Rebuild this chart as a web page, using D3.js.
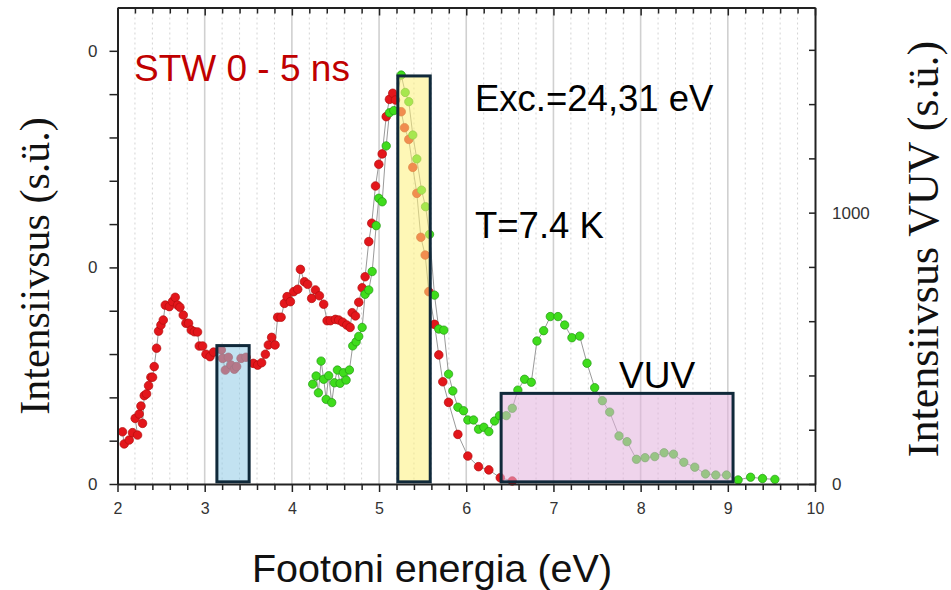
<!DOCTYPE html>
<html><head><meta charset="utf-8">
<script src="https://cdn.jsdelivr.net/npm/d3@7"></script>
<style>body{margin:0;background:#fff}</style>
</head><body><svg id="c" width="951" height="590"></svg>
<script>
// ---- data ----
const redEnergy = [2.057,2.077,2.134,2.172,2.230,2.203,2.249,2.269,2.287,2.307,2.333,2.356,2.383,2.402,2.421,2.448,2.471,2.498,2.525,2.548,2.594,2.631,2.662,2.689,2.716,2.754,2.785,2.815,2.846,2.881,2.918,2.938,2.976,3.015,3.061,3.102,3.191,3.206,3.237,3.271,3.302,3.340,3.366,3.417,3.474,3.558,3.607,3.653,3.696,3.730,3.768,3.807,3.837,3.876,3.914,3.945,3.983,4.021,4.067,4.098,4.144,4.181,4.227,4.270,4.316,4.365,4.404,4.442,4.499,4.537,4.583,4.629,4.668,4.691,4.729,4.767,4.806,4.840,4.882,4.916,4.959,4.997,5.036,5.082,5.119,5.157,5.188,5.254,5.292,5.341,5.387,5.433,5.479,5.529,5.571,5.636,5.685,5.731,5.797,5.904,6.018,6.141,6.259,6.390,6.528];
const redIntensity = [0.241,0.185,0.203,0.237,0.226,0.303,0.323,0.360,0.280,0.408,0.416,0.454,0.493,0.493,0.542,0.627,0.706,0.734,0.757,0.826,0.819,0.842,0.862,0.826,0.816,0.780,0.742,0.742,0.711,0.703,0.702,0.637,0.637,0.599,0.588,0.609,0.619,0.580,0.526,0.585,0.549,0.530,0.542,0.580,0.585,0.557,0.549,0.560,0.599,0.642,0.677,0.642,0.770,0.770,0.834,0.865,0.842,0.888,0.899,0.991,0.934,0.922,0.857,0.896,0.869,0.830,0.754,0.754,0.760,0.757,0.747,0.734,0.723,0.791,0.776,0.839,0.906,0.957,1.119,1.204,1.376,1.476,1.524,1.696,1.776,1.804,1.773,1.719,1.645,1.591,1.462,1.342,1.139,1.057,0.888,0.737,0.596,0.472,0.377,0.229,0.129,0.080,0.065,0.029,0.014];
const vuvEnergy = [4.239,4.278,4.304,4.335,4.365,4.393,4.422,4.457,4.488,4.522,4.553,4.591,4.622,4.660,4.698,4.737,4.767,4.806,4.840,4.882,4.921,4.967,4.997,5.036,5.082,5.119,5.169,5.254,5.300,5.341,5.387,5.433,5.487,5.533,5.579,5.636,5.685,5.743,5.797,5.846,5.904,5.969,6.018,6.084,6.141,6.202,6.259,6.325,6.382,6.459,6.528,6.592,6.669,6.746,6.811,6.888,6.964,7.052,7.129,7.212,7.301,7.385,7.473,7.561,7.645,7.752,7.844,7.952,8.051,8.162,8.269,8.377,8.495,8.621,8.744,8.862,8.985,9.118,9.261,9.398,9.540];
const vuvIntensity = [368,398,336,453,386,312,399,300,373,420,371,410,383,420,509,524,544,577,699,715,783,952,1053,1040,1246,1368,1376,1507,1443,1409,1286,1198,1083,1022,920,696,571,567,405,343,283,270,236,236,202,209,193,232,252,252,279,346,386,375,527,565,617,617,586,539,545,445,355,307,265,177,156,91,97,101,115,110,80,62,37,33,33,15,25,20,17];
const xTickValues = [2,3,4,5,6,7,8,9,10];
const leftTickValues = [0,1,2];
const leftTickLabels = ["0","0","0"];
const rightTickValues = [0,1000];
const rightTickLabels = ["0","1000"];
const boxNames = ["blue","yellow","pink"];
const boxE0 = [3.14,5.215,6.40];
const boxE1 = [3.51,5.587,9.06];
const boxTopLeft = [0.639,1.884,null];
const boxTopRight = [null,null,334];
const boxColors = ["#8fcbe6","#fdf07a","#e2b0dd"];

// ---- chart ----
const svg = d3.select("#c");
const L=117.5, R=815, T=7.5, B=484;
const x = d3.scaleLinear([2,10],[L,R]);
const yL = d3.scaleLinear([0,2.2],[B,T]);
const yR = d3.scaleLinear([0,1756],[B,T]);

// grid
const minorX = d3.range(2,10.001,0.2).map(v=>+v.toFixed(1)).filter(v=>!xTickValues.includes(v));
svg.append("g").selectAll("line").data(minorX).join("line")
  .attr("x1",d=>x(d)).attr("x2",d=>x(d)).attr("y1",T).attr("y2",B)
  .attr("stroke","#d4d4d4").attr("stroke-width",1).attr("stroke-dasharray","2,3");
svg.append("g").selectAll("line").data(xTickValues.slice(1,-1)).join("line")
  .attr("x1",d=>x(d)).attr("x2",d=>x(d)).attr("y1",T).attr("y2",B)
  .attr("stroke","#d0d0d0").attr("stroke-width",1.6);

const red = redEnergy.map((e,i)=>[e,redIntensity[i]]);
const vuv = vuvEnergy.map((e,i)=>[e,vuvIntensity[i]]);

svg.append("path").datum(red)
  .attr("d",d3.line().x(d=>x(d[0])).y(d=>yL(d[1])))
  .attr("fill","none").attr("stroke","#9a9a9a").attr("stroke-width",1);
svg.append("path").datum(vuv)
  .attr("d",d3.line().x(d=>x(d[0])).y(d=>yR(d[1])))
  .attr("fill","none").attr("stroke","#9a9a9a").attr("stroke-width",1);

svg.append("g").selectAll("circle").data(red).join("circle")
  .attr("cx",d=>x(d[0])).attr("cy",d=>yL(d[1])).attr("r",4.3)
  .attr("fill","#e3161b").attr("stroke","#b30f0f").attr("stroke-width",0.7);
svg.append("g").selectAll("circle").data(vuv).join("circle")
  .attr("cx",d=>x(d[0])).attr("cy",d=>yR(d[1])).attr("r",4.2)
  .attr("fill","#3fdc1c").attr("stroke","#239a12").attr("stroke-width",0.7);

// boxes
boxNames.forEach((n,i)=>{
  const yTop = boxTopLeft[i]!=null ? yL(boxTopLeft[i]) : yR(boxTopRight[i]);
  const yBot = yL(0.01);
  svg.append("rect")
    .attr("x",x(boxE0[i])).attr("y",yTop)
    .attr("width",x(boxE1[i])-x(boxE0[i])).attr("height",yBot-yTop)
    .attr("fill",boxColors[i]).attr("fill-opacity",0.55)
    .attr("stroke","#10293a").attr("stroke-width",3);
});

// axes
const axisColor="#222";
function styleAxis(g){ g.select(".domain").attr("stroke",axisColor).attr("stroke-width",2);
  g.selectAll(".tick line").attr("stroke",axisColor).attr("stroke-width",1.5);
  g.selectAll("text").attr("fill","#333").attr("font-family","Liberation Sans, Arial, sans-serif").attr("font-size",16);}

const xb = svg.append("g").attr("transform",`translate(0,${B})`)
  .call(d3.axisBottom(x).tickValues(xTickValues).tickFormat(d3.format("d")).tickSize(8).tickPadding(11).tickSizeOuter(0));
styleAxis(xb);
const xbm = svg.append("g").attr("transform",`translate(0,${B})`)
  .call(d3.axisBottom(x).tickValues(minorX).tickFormat("").tickSize(6).tickSizeOuter(0));
styleAxis(xbm); xbm.select(".domain").remove();

const xt = svg.append("g").attr("transform",`translate(0,${T})`)
  .call(d3.axisTop(x).tickValues(xTickValues).tickFormat("").tickSize(-8).tickSizeOuter(0));
styleAxis(xt);
const xtm = svg.append("g").attr("transform",`translate(0,${T})`)
  .call(d3.axisTop(x).tickValues(minorX).tickFormat("").tickSize(-6).tickSizeOuter(0));
styleAxis(xtm); xtm.select(".domain").remove();

const yl = svg.append("g").attr("transform",`translate(${L},0)`)
  .call(d3.axisLeft(yL).tickValues(leftTickValues).tickFormat((d,i)=>leftTickLabels[i]).tickSize(8).tickPadding(12).tickSizeOuter(0));
styleAxis(yl); yl.selectAll("text").attr("font-size",17);
const ylm = svg.append("g").attr("transform",`translate(${L},0)`)
  .call(d3.axisLeft(yL).tickValues(d3.range(0.2,2.2,0.2).filter(v=>Math.abs(v-1)>0.01&&Math.abs(v-2)>0.01)).tickFormat("").tickSize(8).tickSizeOuter(0));
styleAxis(ylm); ylm.select(".domain").remove();

const yr = svg.append("g").attr("transform",`translate(${R},0)`)
  .call(d3.axisRight(yR).tickValues(d3.range(0,1700,200)).tickFormat(d=>{const k=rightTickValues.indexOf(d);return k>=0?rightTickLabels[k]:"";}).tickSize(-6).tickPadding(17).tickSizeOuter(0));
styleAxis(yr); yr.selectAll("text").attr("font-size",17);

// texts
const sans="Liberation Sans, Arial, sans-serif";
svg.append("text").attr("x",134).attr("y",81).attr("font-family",sans).attr("font-size",37).attr("fill","#c00000").text("STW 0 - 5 ns");
svg.append("text").attr("x",475).attr("y",111).attr("font-family",sans).attr("font-size",36.5).attr("fill","#000").text("Exc.=24,31 eV");
svg.append("text").attr("x",475).attr("y",238).attr("font-family",sans).attr("font-size",36.5).attr("fill","#000").text("T=7.4 K");
svg.append("text").attr("x",619).attr("y",388).attr("font-family",sans).attr("font-size",37).attr("fill","#000").text("VUV");
svg.append("text").attr("x",432).attr("y",582).attr("text-anchor","middle").attr("font-family",sans).attr("font-size",39.5).attr("fill","#111").text("Footoni energia (eV)");
svg.append("text").attr("transform","translate(49,266) rotate(-90)").attr("text-anchor","middle").attr("font-family","Liberation Serif, Times New Roman, serif").attr("font-size",42).attr("fill","#111").text("Intensiivsus (s.ü.)");
svg.append("text").attr("transform","translate(938,249) rotate(-90)").attr("text-anchor","middle").attr("font-family","Liberation Serif, Times New Roman, serif").attr("font-size",44).attr("fill","#111").text("Intensiivsus VUV (s.ü.)");
</script></body></html>
